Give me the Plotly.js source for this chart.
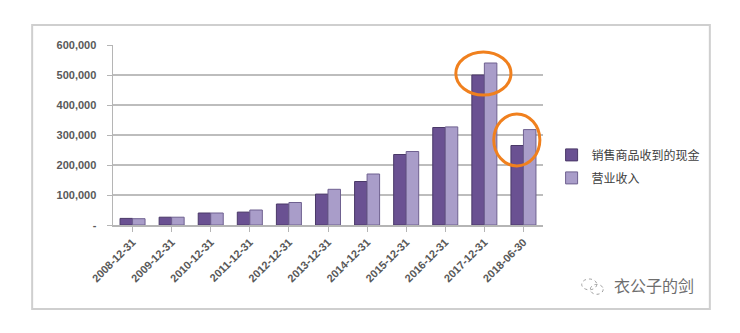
<!DOCTYPE html>
<html>
<head>
<meta charset="utf-8">
<script src="https://cdn.plot.ly/plotly-3.0.1.min.js"></script>
<style>html,body{margin:0;padding:0;background:#fff;}#chart{width:740px;height:333px;}</style>
</head>
<body>
<div id="chart"></div>
<script>
const categories = ["2008-12-31","2009-12-31","2010-12-31","2011-12-31","2012-12-31","2013-12-31","2014-12-31","2015-12-31","2016-12-31","2017-12-31","2018-06-30"];
const cashFromSales = [22000, 26000, 40000, 43000, 70000, 103000, 145000, 235000, 325000, 500000, 265000];
const revenue = [21000, 26000, 40000, 50000, 75000, 119000, 170000, 245000, 327000, 540000, 318000];
const seriesNames = ["销售商品收到的现金", "营业收入"];
const yTickVals = [0, 100000, 200000, 300000, 400000, 500000, 600000];
const yTickText = ["-", "100,000", "200,000", "300,000", "400,000", "500,000", "600,000"];

const cjk = '"Liberation Sans", "Noto Sans CJK SC", sans-serif';
const traces = [
  {type:'bar', name:seriesNames[0], x:categories, y:cashFromSales, legendgroup:'a',
   marker:{color:'#6a5192', line:{color:'#4a3968', width:1}}},
  {type:'bar', name:seriesNames[1], x:categories, y:revenue, legendgroup:'b',
   marker:{color:'#a99dc9', line:{color:'#6f6190', width:1}}}
];
const layout = {
  width:740, height:333,
  margin:{l:113, r:197, t:45, b:108},
  paper_bgcolor:'#ffffff', plot_bgcolor:'#ffffff',
  barmode:'group', bargap:0.36, bargroupgap:0,
  font:{family:cjk, color:'#595959', size:11},
  showlegend:true,
  legend:{x:1.02, y:0.47, xanchor:'left', yanchor:'top', tracegroupgap:4,
          font:{family:'"Noto Sans CJK SC", sans-serif', size:12, color:'#404040'}, bgcolor:'rgba(0,0,0,0)', itemwidth:30},
  xaxis:{type:'category', tickangle:-45, tickfont:{size:11, color:'#595959', weight:'bold'},
         showline:true, linecolor:'#b5b5b5', linewidth:1.5, ticks:'outside', ticklen:5, tickcolor:'#b5b5b5',
         showgrid:false, fixedrange:true},
  yaxis:{range:[0, 600000], tickvals:yTickVals, ticktext:yTickText,
         tickfont:{size:11, color:'#595959', family:'"Liberation Sans", sans-serif', weight:'bold'},
         showline:true, linecolor:'#b5b5b5', linewidth:1.5, ticks:'outside', ticklen:5, tickcolor:'#b5b5b5',
         showgrid:true, gridcolor:'#bdbdbd', gridwidth:1.5, zeroline:false, ticklabelstandoff:8},
  shapes:[
    {type:'rect', xref:'paper', yref:'paper', x0:-0.188, x1:1.388, y0:-0.467, y1:1.111,
     line:{color:'#cfcfcf', width:2}, fillcolor:'rgba(0,0,0,0)', layer:'below'},
    {type:'circle', xref:'x', yref:'y', x0:8.27, x1:9.68, y0:433000, y1:577000,
     line:{color:'#f0801e', width:3}},
    {type:'circle', xref:'x', yref:'y', x0:9.24, x1:10.42, y0:197000, y1:370000,
     line:{color:'#f0801e', width:3}},
    {type:'circle', xref:'paper', yref:'paper', x0:1.09, x1:1.125, y0:-0.36, y1:-0.30,
     line:{color:'#a0a0a0', width:1, dash:'dot'}},
    {type:'circle', xref:'paper', yref:'paper', x0:1.11, x1:1.14, y0:-0.385, y1:-0.33,
     line:{color:'#a0a0a0', width:1, dash:'dot'}}
  ],
  annotations:[
    {xref:'paper', yref:'paper', x:1.16, y:-0.335, xanchor:'left', yanchor:'middle', showarrow:false,
     text:'衣公子的剑', font:{family:'"Noto Sans CJK SC", sans-serif', size:16, color:'#6e6e6e'}}
  ]
};
Plotly.newPlot('chart', traces, layout, {displayModeBar:false, staticPlot:true});
</script>
</body>
</html>
